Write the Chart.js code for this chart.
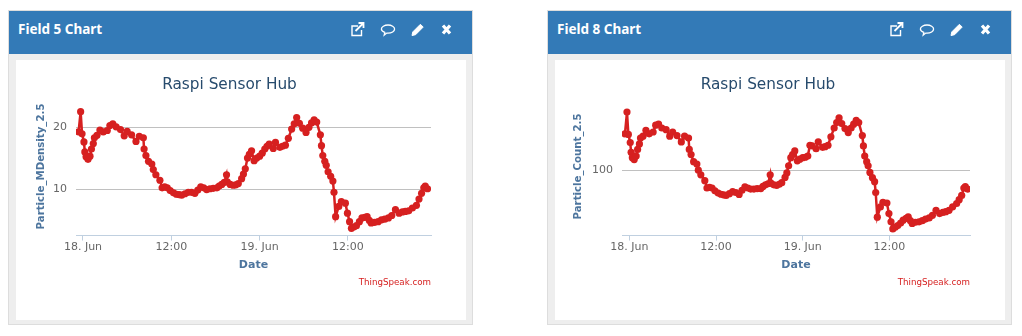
<!DOCTYPE html>
<html>
<head>
<meta charset="utf-8">
<title>Raspi Sensor Hub</title>
<script src="https://cdn.jsdelivr.net/npm/chart.js@4"></script>
<style>
  html, body { margin: 0; padding: 0; background: #fff; }
  body { width: 1022px; height: 336px; position: relative; overflow: hidden; font-family: "DejaVu Sans", sans-serif; }
  .card { position: absolute; top: 10px; width: 463px; height: 313px; background: #eee; border: 1px solid #ddd; }
  .card .head { position: absolute; left: 0; top: 0; right: 0; height: 43px; background: #337ab7; color: #fff; font-family: "Noto Sans", sans-serif; font-weight: bold; font-size: 13.5px; line-height: 37px; padding-left: 9px; box-sizing: border-box; }
  .card .icons { position: absolute; left: 340px; top: 9px; }
  .card canvas { position: absolute; left: 7px; top: 49px; background: #fff; }
</style>
</head>
<body>
<div class="card" style="left:8px">
  <div class="head">Field 5 Chart</div>
  <svg class="icons" width="110" height="24" viewBox="0 0 110 24"><use href="#ico"/></svg>
  <canvas id="field5" width="450" height="260"></canvas>
</div>
<div class="card" style="left:547px">
  <div class="head">Field 8 Chart</div>
  <svg class="icons" width="110" height="24" viewBox="0 0 110 24"><use href="#ico"/></svg>
  <canvas id="field8" width="450" height="260"></canvas>
</div>
<svg width="0" height="0" style="position:absolute">
  <g id="ico" fill="none" stroke="#fff" stroke-width="1.4">
    <path d="M9 6H3v9.5h9.5V10"/>
    <path d="M6.5 11 13.5 4M9.5 3h5v5" stroke-width="1.8"/>
    <path d="M39 5c3.6 0 6.6 1.8 6.6 4.1s-3 4.1-6.6 4.1l-1.2-.1-2.6 2 .6-2.7c-2-.7-3.4-1.9-3.4-3.3C32.400 6.800 35.400 5 39 5z" stroke-width="1.3"/>
    <path d="M63 15.500l.8-3.600 7.600-7.600 2.800 2.800-7.600 7.600z" fill="#fff" stroke-width="1"/>
    <path d="M94 5.500l7 8M101 5.500l-7 8" stroke-width="3.2"/>
  </g>
</svg>
<script>
// hours after 18 Jun 00:00
var hours = [
  -0.6, -0.32, -0.13, 0.13, 0.25, 0.42, 0.68, 0.95, 1.15, 1.4,
  1.55, 1.9, 2.3, 2.75, 3.3, 3.65, 4.05, 4.5, 5.1, 5.6,
  6.0, 6.6, 7.2, 7.65, 8.2, 8.3, 8.55, 8.9, 9.35, 9.55,
  9.9, 10.45, 10.75, 11.1, 11.45, 11.85, 12.3, 12.7, 13.05, 13.4,
  13.85, 14.3, 14.75, 15.2, 15.6, 16, 16.4, 16.8, 17.25, 17.7,
  18.2, 18.5, 18.85, 19.2, 19.5, 19.6, 20, 20.4, 20.75, 21.1,
  21.55, 21.8, 22.05, 22.35, 22.6, 22.9, 23.25, 23.6, 24, 24.35,
  24.7, 25, 25.3, 25.85, 26.15, 26.75, 27.1, 27.5, 27.9, 28.35,
  28.7, 29.03, 29.4, 29.85, 30.3, 30.7, 31.05, 31.4, 31.75, 32.25,
  32.4, 32.58, 32.85, 33.05, 33.3, 33.65, 33.95, 34.1, 34.32, 34.75,
  35.1, 35.65, 35.93, 36.22, 36.47, 36.8, 37.15, 37.55, 37.9, 38.3,
  38.6, 38.9, 39.15, 39.6, 40.1, 40.55, 41, 41.5, 41.95, 42.45,
  42.95, 43.4, 43.8, 44.25, 44.75, 45.3, 45.65, 46, 46.3, 46.5,
  46.8
];
var field5Values = [
  19.0, 23.8, 18.6, 17.0, 15.2, 14.4, 14.0, 14.5, 15.7, 16.7,
  17.8, 18.3, 19.4, 19.0, 19.3, 20.4, 20.8, 20.1, 19.5, 18.2,
  19.1, 18.4, 17.1, 18.1, 17.8, 15.7, 14.6, 13.7, 13.3, 12.5,
  11.8, 11.1, 10.2, 10.3, 10.2, 9.9, 9.65, 9.5, 9.45, 9.4,
  9.55, 9.7, 9.7, 9.6, 9.95, 10.3, 10.2, 10.0, 10.1, 10.15,
  10.2, 10.4, 10.6, 10.85, 11.8, 10.9, 10.6, 10.5, 10.55, 10.7,
  11.3, 11.9, 12.6, 14.2, 14.8, 15.4, 13.8, 14.2, 14.5, 15,
  15.7, 16.2, 16.6, 15.8, 16.9, 16, 16.2, 16.4, 17.7, 19.6,
  20.8, 22.3, 20.9, 19.8, 18.9, 20, 21, 21.7, 21.2, 18.4,
  16.3, 14.6, 13.7, 13.1, 12.2, 11.6, 11, 9.7, 7.4, 8.3,
  8.75, 8.6, 7.7, 7.0, 6.5, 6.6, 6.7, 7.0, 7.3, 7.35,
  7.4, 7.1, 6.9, 6.95, 7, 7.15, 7.2, 7.3, 7.5, 8,
  7.7, 7.8, 7.85, 7.9, 8.15, 8.4, 9, 9.6, 10.2, 10.4,
  10.1
];
var field8Values = [
  150, 191, 149, 136, 122, 115, 112.5, 117, 126, 134,
  143, 146, 156, 150, 153, 165, 167, 160, 157, 146,
  153, 147, 137, 146, 143, 126, 119, 110, 107, 100,
  95, 89, 82, 82.5, 82, 79.5, 77.5, 76.5, 76, 75.5,
  77, 78.7, 78, 76.3, 80, 83, 82, 81, 81, 81.5,
  81.5, 83.5, 85, 86, 95, 86.5, 85, 84.5, 85.5, 87,
  92.3, 97, 105, 115, 119, 124, 111, 113, 115, 115.5,
  117, 132, 131, 127, 137, 129, 130, 132, 145, 160,
  170, 179, 168, 159, 152, 160, 167, 174, 170, 147,
  131, 117, 110, 105, 97.6, 92, 88, 78, 59.3, 66.4,
  70, 69.4, 61.7, 56.3, 52, 53, 54, 55.5, 57.3, 58.5,
  59.5, 57, 55.3, 56, 56.3, 57, 58, 58.8, 60.5, 64,
  61.7, 62.5, 63, 64, 66.5, 69, 72, 75.5, 82, 83.4,
  81
];
var xTickHours = [0, 12, 24, 36];
var xTickLabels = ['18. Jun', '12:00', '19. Jun', '12:00'];
var field5Ticks = [10, 20];
var field8Ticks = [100];

var fontName = '"DejaVu Sans", sans-serif';

function graficoCampo(id, valores, nomeY, yMin, yMax, yTicks, xMin, xMax, larguraEixo, esquerda, recuoTitulo) {
    var ctx = document.getElementById(id).getContext('2d');
    return new Chart(ctx, {
        type: 'line',
        data: {
            datasets: [{
                label: nomeY,
                data: hours.map((h, i) => ({ x: h, y: valores[i] })),
                borderColor: '#d62020',
                backgroundColor: '#d62020',
                borderWidth: 2.5,
                pointRadius: 3.6,
                pointBorderWidth: 0,
                tension: 0,
                fill: false
            }]
        },
        options: {
            responsive: false,
            animation: false,
            devicePixelRatio: 1,
            layout: { padding: { left: esquerda, right: 35, top: 16, bottom: 32 } },
            plugins: {
                legend: { display: false },
                tooltip: { enabled: false },
                title: {
                    display: true,
                    text: 'Raspi Sensor Hub',
                    color: '#274b6d',
                    font: { family: fontName, size: 15.3, weight: 'normal' },
                    padding: { top: 0, bottom: 3 }
                },
                subtitle: {
                    display: true,
                    position: 'bottom',
                    align: 'end',
                    text: 'ThingSpeak.com',
                    color: '#d62020',
                    font: { family: fontName, size: 8.7, weight: 'normal' },
                    padding: { top: 0, bottom: 0 }
                }
            },
            scales: {
                x: {
                    type: 'linear',
                    min: xMin,
                    max: xMax,
                    afterBuildTicks: function (axis) {
                        axis.ticks = xTickHours.map(v => ({ value: v }));
                    },
                    afterFit: function (axis) { axis.height = 42; },
                    ticks: {
                        color: '#666666',
                        font: { family: fontName, size: 11 },
                        maxRotation: 0,
                        autoSkip: false,
                        padding: 0,
                        callback: function (value) {
                            return xTickLabels[xTickHours.indexOf(value)];
                        }
                    },
                    grid: { drawOnChartArea: false, color: '#c0d0e0', tickLength: 5 },
                    border: { color: '#c0d0e0' },
                    title: {
                        display: true,
                        text: 'Date',
                        color: '#4d759e',
                        font: { family: fontName, size: 11, weight: 'bold' },
                        padding: { top: 0, bottom: 6 }
                    }
                },
                y: {
                    type: 'logarithmic',
                    min: yMin,
                    max: yMax,
                    afterBuildTicks: function (axis) {
                        axis.ticks = yTicks.map(v => ({ value: v }));
                    },
                    afterFit: function (axis) { axis.width = larguraEixo; },
                    ticks: {
                        color: '#666666',
                        font: { family: fontName, size: 11 },
                        padding: 9,
                        callback: function (value) { return String(value); }
                    },
                    grid: { color: '#c0c0c0', drawTicks: false },
                    border: { display: false },
                    title: {
                        display: true,
                        text: nomeY,
                        color: '#4d759e',
                        font: { family: fontName, size: 10.2, weight: 'bold' },
                        padding: { top: recuoTitulo, bottom: 0 }
                    }
                }
            }
        }
    });
}

graficoCampo('field5', field5Values, 'Particle_MDensity_2.5', 6.0, 27.9, field5Ticks, -0.95, 47.28, 48, 12, 7);
graficoCampo('field8', field8Values, 'Particle_Count_2.5', 48.3, 225, field8Ticks, -1.01, 47.15, 56, 11, 6);
</script>
</body>
</html>
